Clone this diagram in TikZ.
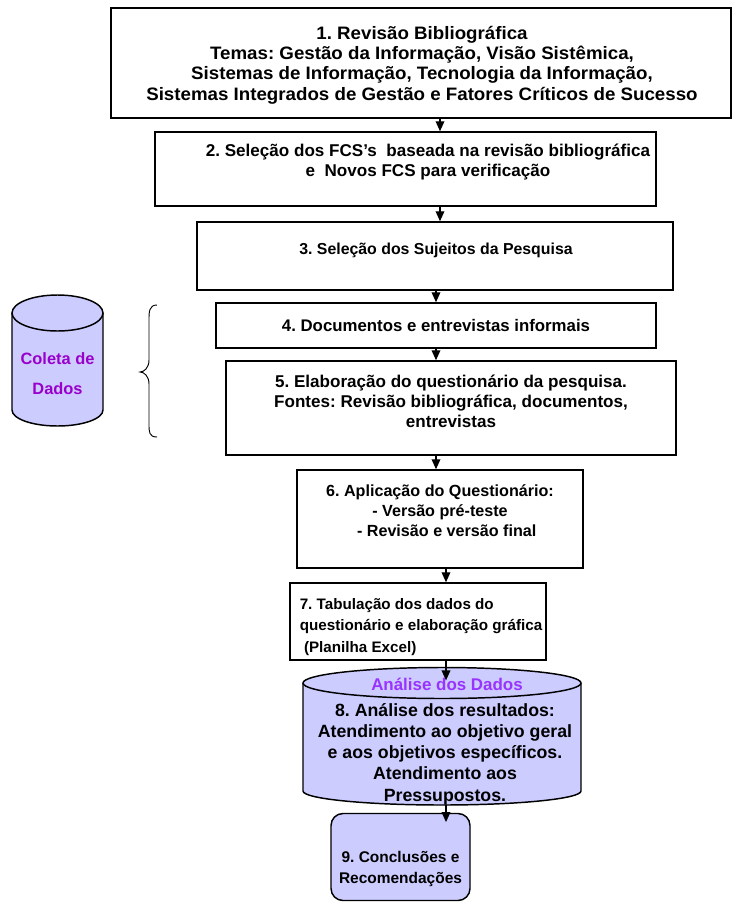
\documentclass[tikz,border=0pt]{standalone}
\usepackage{fontspec}
\setmainfont{Liberation Sans}
\newfontfamily\widefont[FakeStretch=1.04]{Liberation Sans}
\usetikzlibrary{arrows.meta}
\definecolor{lav}{HTML}{CCCCFF}
\definecolor{purpA}{HTML}{9900CC}
\definecolor{purpB}{HTML}{9933FF}
\newcommand{\fs}[2]{\fontsize{#1}{#2}\selectfont\bfseries}
\tikzset{
  px/.style={x=0.75pt,y=-0.75pt},
  stepbox/.style={draw=black,line width=1.1pt,fill=white,inner sep=0pt},
  txt/.style={align=center,inner sep=0pt,execute at begin node=\frenchspacing},
  arr/.style={draw=black,line width=1pt,-{Triangle[length=7.5pt,width=6.5pt]}},
  cyl/.style={draw=black,line width=1.1pt,fill=lav},
}
\begin{document}
\begin{tikzpicture}[px]
\useasboundingbox (0,0) rectangle (733,903);

% x positions of the vertical connectors
\coordinate (xa) at (440,0);
\coordinate (xb) at (436,0);
\coordinate (xc) at (446,0);

% step boxes
\node (b1) [stepbox,minimum width=465pt,minimum height=82.5pt] at (421,63) {};
\node at (422,65) [txt,font=\widefont\fs{13.5}{15.3}]
  {1. Revisão Bibliográfica\\Temas: Gestão da Informação, Visão Sistêmica,\\Sistemas de Informação, Tecnologia da Informação,\\Sistemas Integrados de Gestão e Fatores Críticos de Sucesso};

\node (b2) [stepbox,minimum width=375.75pt,minimum height=55.5pt] at (405.5,169) {};
\node at (428,162) [txt,font=\fs{12.8}{15}] {2. Seleção dos FCS’s\ \ baseada na revisão bibliográfica\\e\ \ Novos FCS para verificação};

\node (b3) [stepbox,minimum width=357pt,minimum height=51pt] at (435,256) {};
\node at (436,250) [txt,font=\fs{11.9}{15}] {3. Seleção dos Sujeitos da Pesquisa};

\node (b4) [stepbox,minimum width=330pt,minimum height=33.75pt] at (436,325.5) {};
\node at (436,325) [txt,font=\fs{12.6}{15}] {4. Documentos e entrevistas informais};

\node (b5) [stepbox,minimum width=337.5pt,minimum height=70.5pt] at (451,408) {};
\node at (451,401) [txt,font=\fs{12.8}{15}] {5. Elaboração do questionário da pesquisa.\\Fontes: Revisão bibliográfica, documentos,\\entrevistas};

\node (b6) [stepbox,minimum width=214.5pt,minimum height=73.5pt] at (440,519) {};
\node at (440,511) [txt,font=\fs{12.1}{15}] {6. Aplicação do Questionário:\\- Versão pré-teste\\\ \ \ - Revisão e versão final};

\node (b7) [stepbox,minimum width=192pt,minimum height=57.75pt] at (418,621.5) {};
\node at (421,627) [txt,align=left,font=\fs{11.4}{15.8}] {7. Tabulação dos dados do\\questionário e elaboração gráfica\\\ (Planilha Excel)};

% data analysis cylinder
\node (b8) [inner sep=0pt,minimum width=208.5pt,minimum height=104.25pt] at (442,735.5) {};
\fill[lav] (303,683) -- (303,791) arc[start angle=180,end angle=0,x radius=139,y radius=14] -- (581,683) -- cycle;
\draw[line width=1.1pt] (303,683) -- (303,791) arc[start angle=180,end angle=0,x radius=139,y radius=14] -- (581,683);
\draw[cyl] (442,683) ellipse[x radius=139,y radius=15.5];
\node at (447,684) [txt,text=purpB,font=\fs{12.7}{15}] {Análise dos Dados};
\node at (445,754) [txt,font=\fs{13.3}{15.9}] {8. Análise dos resultados:\\Atendimento ao objetivo geral\\e aos objetivos específicos.\\Atendimento aos\\Pressupostos.};

\node (b9) [stepbox,fill=lav,rounded corners=9pt,minimum width=104.25pt,minimum height=65.25pt] at (400.5,857) {};
\node at (400.5,869) [txt,font=\fs{11.6}{15.8}] {9. Conclusões e\\Recomendações};

% data collection cylinder
\node (cc) [inner sep=0pt,minimum width=68.25pt,minimum height=98.25pt] at (57.5,360.5) {};
\fill[lav] (12,313) -- (12,410) arc[start angle=180,end angle=0,x radius=45.5,y radius=16] -- (103,313) -- cycle;
\draw[line width=1.1pt] (12,313) -- (12,410) arc[start angle=180,end angle=0,x radius=45.5,y radius=16] -- (103,313);
\draw[cyl] (57.5,313) ellipse[x radius=45.5,y radius=18];
\node at (57.5,374) [txt,text=purpA,font=\fs{12.3}{22.5}] {Coleta de\\Dados};

% brace spanning the collection steps
\draw[line width=0.7pt] (157,305) .. controls (149,305) and (149,312) .. (149,320)
  -- (149,360) .. controls (149,368) and (144,372) .. (140,372)
  .. controls (144,372) and (149,376) .. (149,384)
  -- (149,424) .. controls (149,432) and (149,437) .. (157,437);

% connectors
\draw[arr] (b1.south -| xa) -- (b2.north -| xa);
\draw[arr] (b2.south -| xa) -- (b3.north -| xa);
\draw[arr] (b3.south -| xb) -- (b4.north -| xb);
\draw[arr] (b4.south -| xb) -- (b5.north -| xb);
\draw[arr] (b5.south -| xb) -- (b6.north -| xb);
\draw[arr] (b6.south -| xc) -- (b7.north -| xc);
\draw[arr] (b7.south -| xc) -- ([yshift=-11pt]b8.north -| xc);
\draw[arr] (b8.south -| xc) -- ([yshift=-7pt]b9.north -| xc);
\end{tikzpicture}
\end{document}
